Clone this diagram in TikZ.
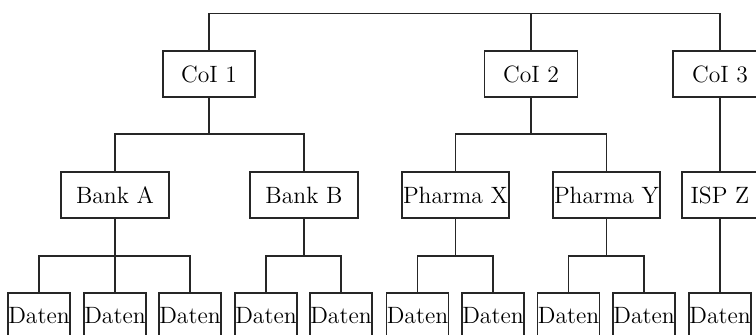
\documentclass[tikz,border=0pt]{standalone}
\begin{document}
\begin{tikzpicture}[x=0.5pt,y=-0.5pt,
  box/.style={draw=black!85,line width=0.6pt,inner sep=0pt,minimum height=23pt,font=\fontsize{11.8}{14}\selectfont,text=black},
  datbox/.style={box,minimum width=31pt},
  link/.style={draw=black!85,line width=0.6pt}]
\useasboundingbox (0,0) rectangle (756,335);
% level 1
\node[box,minimum width=46pt] (c1) at (209,74) {CoI 1};
\node[box,minimum width=46.5pt] (c2) at (531,74) {CoI 2};
\node[box,minimum width=47pt] (c3) at (720,74) {CoI 3};
% level 2
\node[box,minimum width=54pt] (ba) at (115,195) {Bank A};
\node[box,minimum width=54pt] (bb) at (304,195) {Bank B};
\node[box,minimum width=53.5pt] (px) at (455.5,195) {Pharma X};
\node[box,minimum width=53.5pt] (py) at (606.5,195) {Pharma Y};
\node[box,minimum width=38pt] (iz) at (720,195) {ISP Z};
% level 3
\node[datbox] (d1) at (39,316) {Daten};
\node[datbox] (d2) at (115,316) {Daten};
\node[datbox] (d3) at (190,316) {Daten};
\node[datbox] (d4) at (266,316) {Daten};
\node[datbox] (d5) at (341,316) {Daten};
\node[datbox] (d6) at (417.5,316) {Daten};
\node[datbox] (d7) at (493,316) {Daten};
\node[datbox] (d8) at (568.5,316) {Daten};
\node[datbox] (d9) at (644,316) {Daten};
\node[datbox] (d10) at (720,316) {Daten};
% bus coordinates
\coordinate (t) at (0,13.5);
\coordinate (m) at (0,134);
\coordinate (l) at (0,256);
% top
\draw[link] (c1.north) -- (c1.north |- t) -- (c3.north |- t) -- (c3.north);
\draw[link] (c2.north) -- (c2.north |- t);
% CoI 1
\draw[link] (c1.south) -- (c1.south |- m);
\draw[link] (ba.north) -- (ba.north |- m) -- (bb.north |- m) -- (bb.north);
% CoI 2
\draw[link] (c2.south) -- (c2.south |- m);
\draw[link] (px.north) -- (px.north |- m) -- (py.north |- m) -- (py.north);
% CoI 3
\draw[link] (c3.south) -- (iz.north);
% Bank A
\draw[link] (ba.south) -- (d2.north);
\draw[link] (d1.north) -- (d1.north |- l) -- (d3.north |- l) -- (d3.north);
% Bank B
\draw[link] (bb.south) -- (bb.south |- l);
\draw[link] (d4.north) -- (d4.north |- l) -- (d5.north |- l) -- (d5.north);
% Pharma X
\draw[link] (px.south) -- (px.south |- l);
\draw[link] (d6.north) -- (d6.north |- l) -- (d7.north |- l) -- (d7.north);
% Pharma Y
\draw[link] (py.south) -- (py.south |- l);
\draw[link] (d8.north) -- (d8.north |- l) -- (d9.north |- l) -- (d9.north);
% ISP Z
\draw[link] (iz.south) -- (d10.north);
\end{tikzpicture}
\end{document}
